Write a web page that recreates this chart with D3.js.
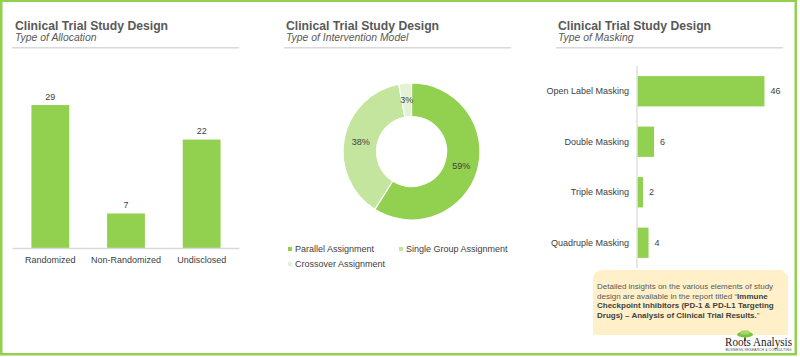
<!DOCTYPE html>
<html><head><meta charset="utf-8">
<script src="https://cdn.jsdelivr.net/npm/d3@7"></script>
<style>
html,body{margin:0;padding:0;background:#fff;}
svg{display:block;font-family:"Liberation Sans",Arial,sans-serif;}
</style></head>
<body>
<svg id="c" width="800" height="357"></svg>
<script>
const chartTitle = "Clinical Trial Study Design";
const subtitles = ["Type of Allocation","Type of Intervention Model","Type of Masking"];

const allocCategories = ["Randomized","Non-Randomized","Undisclosed"];
const allocValues = [29,7,22];

const modelCategories = ["Parallel Assignment","Single Group Assignment","Crossover Assignment"];
const modelValues = [59,38,3];

const maskCategories = ["Open Label Masking","Double Masking","Triple Masking","Quadruple Masking"];
const maskValues = [46,6,2,4];

const GREEN = "#92d050";
const modelColors = ["#92d050","#c3e59e","#e3f2d3"];
const TXT = "#404040", TITLE = "#595959", RULE = "#d9d9d9";

const svg = d3.select("#c");

// outer frame
svg.append("rect").attr("x",1.25).attr("y",0.75).attr("width",794.5).attr("height",353.5)
  .attr("fill","#fff").attr("stroke",GREEN).attr("stroke-width",2.5);

// panel headers
const headX = [15,286,558], ruleX = [[12,239],[284,511],[556,783]];
headX.forEach((x,i)=>{
  svg.append("text").attr("x",x).attr("y",29.5).attr("font-size",12.2).attr("font-weight","bold")
    .attr("fill",TITLE).text(chartTitle);
  svg.append("text").attr("x",x).attr("y",41).attr("font-size",10.4).attr("font-style","italic")
    .attr("fill",TITLE).text(subtitles[i]);
  svg.append("line").attr("x1",ruleX[i][0]).attr("x2",ruleX[i][1]).attr("y1",47.8).attr("y2",47.8)
    .attr("stroke",RULE).attr("stroke-width",1.5);
});

// ---- Panel 1: vertical bars
const x1 = d3.scaleBand().domain(allocCategories).range([12.5,239.5]).paddingInner(0.5).paddingOuter(0.25);
const y1 = d3.scaleLinear().domain([0,35]).range([248,75.5]);
const g1 = svg.append("g");
g1.selectAll("rect").data(allocValues).join("rect")
  .attr("x",(d,i)=>x1(allocCategories[i])).attr("width",x1.bandwidth())
  .attr("y",d=>y1(d)).attr("height",d=>y1(0)-y1(d)).attr("fill",GREEN);
g1.selectAll("text.v").data(allocValues).join("text").attr("class","v")
  .attr("x",(d,i)=>x1(allocCategories[i])+x1.bandwidth()/2).attr("y",d=>y1(d)-5.5)
  .attr("text-anchor","middle").attr("font-size",9).attr("fill",TXT).text(d=>d);
const ax1 = g1.append("g").attr("transform","translate(0,248)")
  .call(d3.axisBottom(x1).tickSize(0).tickPadding(9));
ax1.select(".domain").attr("stroke",RULE).attr("stroke-width",1.5).attr("d","M12.5,0.5H239.5");
ax1.selectAll("text").attr("font-size",9).attr("fill",TXT).attr("font-family","Liberation Sans, Arial, sans-serif");

// ---- Panel 2: donut
const cx = 411.5, cy = 151.5;
const pie = d3.pie().sort(null).value(d=>d)(modelValues);
const arc = d3.arc().innerRadius(35).outerRadius(68.5);
const g2 = svg.append("g").attr("transform",`translate(${cx},${cy})`);
g2.selectAll("path").data(pie).join("path").attr("d",arc)
  .attr("fill",(d,i)=>modelColors[i]).attr("stroke","#fff").attr("stroke-width",1.2);
g2.selectAll("text").data(pie).join("text")
  .attr("transform",d=>`translate(${arc.centroid(d)})`).attr("dy","0.35em")
  .attr("text-anchor","middle").attr("font-size",9).attr("fill",TXT)
  .text(d=>d.data+"%");
// legend
const legPos = [[290,249],[401,249],[290,264]];
modelCategories.forEach((c,i)=>{
  svg.append("rect").attr("x",legPos[i][0]-2).attr("y",legPos[i][1]-2).attr("width",4).attr("height",4)
    .attr("fill",modelColors[i]);
  svg.append("text").attr("x",legPos[i][0]+5).attr("y",legPos[i][1]).attr("dy","0.35em")
    .attr("font-size",9).attr("fill",TXT).text(c);
});

// ---- Panel 3: horizontal bars
const y3 = d3.scaleBand().domain(maskCategories).range([66,268]).paddingInner(0.4).paddingOuter(0.2);
const x3 = d3.scaleLinear().domain([0,50]).range([637.5,775.5]);
const g3 = svg.append("g");
g3.selectAll("rect").data(maskValues).join("rect")
  .attr("x",x3(0)).attr("y",(d,i)=>y3(maskCategories[i])).attr("height",y3.bandwidth())
  .attr("width",d=>x3(d)-x3(0)).attr("fill",GREEN);
g3.selectAll("text.v").data(maskValues).join("text").attr("class","v")
  .attr("x",d=>x3(d)+6).attr("y",(d,i)=>y3(maskCategories[i])+y3.bandwidth()/2).attr("dy","0.35em")
  .attr("font-size",9).attr("fill",TXT).text(d=>d);
const ax3 = g3.append("g").attr("transform",`translate(${x3(0)},0)`)
  .call(d3.axisLeft(y3).tickSize(0).tickPadding(8.5));
ax3.select(".domain").attr("stroke",RULE).attr("stroke-width",1.2).attr("d","M-0.5,66V268");
ax3.selectAll("text").attr("font-size",9).attr("fill",TXT).attr("font-family","Liberation Sans, Arial, sans-serif");

// callout box
svg.append("path").attr("d","M593,335 L593,280 Q593,270 603,270 L782,270 L788,276 L788,335 Z")
  .attr("fill","#fff0c9");
const lines = [
  [["Detailed insights on the various elements of study",false]],
  [["design are available in the report titled \u201c",false],["Immune",true]],
  [["Checkpoint Inhibitors (PD-1 & PD-L1 Targeting",true]],
  [["Drugs) \u2013 Analysis of Clinical Trial Results.",true],["\u201d",false]]
];
const lineY = [289,298.5,308,317.5];
lines.forEach((ln,i)=>{
  const t = svg.append("text").attr("x",597).attr("y",lineY[i]).attr("font-size",8).attr("fill","#595959");
  ln.forEach(([s,b])=>t.append("tspan").attr("font-weight",b?"bold":"normal").attr("fill",b?"#404040":"#595959").text(s));
});

// logo
const lg = svg.append("g");
lg.append("rect").attr("x",744).attr("y",335).attr("width",2).attr("height",6).attr("fill","#7a6a3a");
lg.append("ellipse").attr("cx",745).attr("cy",334.5).attr("rx",8).attr("ry",3).attr("fill","#7cc242");
lg.append("ellipse").attr("cx",745).attr("cy",332.5).attr("rx",5).attr("ry",2.2).attr("fill","#a5d66a");
lg.append("text").attr("x",725).attr("y",346).attr("font-family","Liberation Serif, DejaVu Serif, serif")
  .attr("font-size",12).attr("textLength",67).attr("lengthAdjust","spacingAndGlyphs")
  .attr("fill","#1a1a1a").text("Roots Analysis");
lg.append("text").attr("x",725.5).attr("y",350.6).attr("font-size",2.9)
  .attr("textLength",66).attr("lengthAdjust","spacingAndGlyphs")
  .attr("fill","#555").text("BUSINESS RESEARCH & CONSULTING");
</script>
</body></html>
